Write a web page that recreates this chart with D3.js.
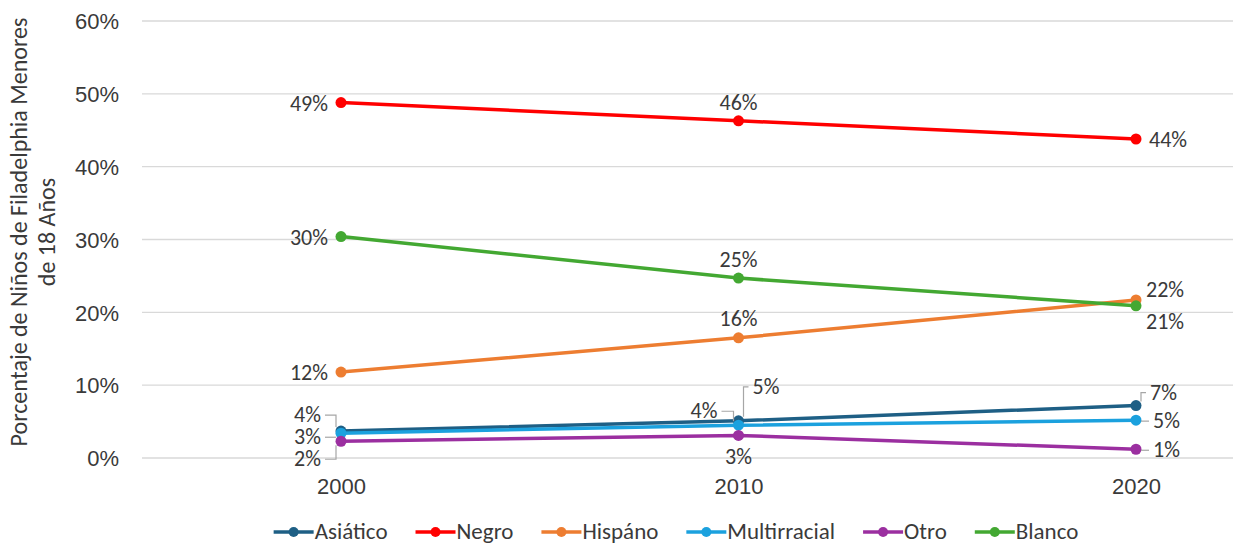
<!DOCTYPE html>
<html>
<head>
<meta charset="utf-8">
<script src="https://cdn.jsdelivr.net/npm/d3@7"></script>
<style>
  body { margin: 0; background: #fff; }
  svg { font-family: Carlito, Calibri, "Open Sans", "Noto Sans", sans-serif; }
</style>
</head>
<body>
<svg id="chart" width="1233" height="545"></svg>
<script>
// years on the x axis
var years = ["2000", "2010", "2020"]
var yTicks = [0, 0.1, 0.2, 0.3, 0.4, 0.5, 0.6]

// series values (share of children)
var seriesNames = ["Asiático", "Negro", "Hispáno", "Multirracial", "Otro", "Blanco"]
var asiatico     = [0.037, 0.051, 0.072]
var negro        = [0.488, 0.463, 0.438]
var hispano      = [0.118, 0.165, 0.217]
var multirracial = [0.034, 0.045, 0.052]
var otro         = [0.023, 0.031, 0.012]
var blanco       = [0.304, 0.247, 0.209]

// labels shown next to each point
var asiaticoLbl     = ["4%", "5%", "7%"]
var negroLbl        = ["49%", "46%", "44%"]
var hispanoLbl      = ["12%", "16%", "22%"]
var multirracialLbl = ["3%", "4%", "5%"]
var otroLbl         = ["2%", "3%", "1%"]
var blancoLbl       = ["30%", "25%", "21%"]

var colors = ["#1e5f85", "#ff0000", "#ed7d31", "#1ba1de", "#9b2fa0", "#43a832"]

// label placement: [dx, dy, anchor, leader?]
var place = {
  "Asiático":     [[-20, -9, "end", 1], [14, -27, "start", 1], [14, -6, "start", 1]],
  "Negro":        [[-13, 8, "end"], [0, -11, "middle"], [13, 8, "start"]],
  "Hispáno":      [[-13, 8, "end"], [0, -12, "middle"], [10, -3, "start"]],
  "Multirracial": [[-20, 11, "end", 1], [-21, -7, "end", 1], [17, 8, "start", 1]],
  "Otro":         [[-20, 25, "end", 1], [0, 29, "middle"], [17, 8, "start", 1]],
  "Blanco":       [[-13, 8, "end"], [0, -11, "middle"], [10, 23, "start"]]
}

var series = [asiatico, negro, hispano, multirracial, otro, blanco].map(function(v, i){
  return {name: seriesNames[i], values: v, color: colors[i],
    labels: [asiaticoLbl, negroLbl, hispanoLbl, multirracialLbl, otroLbl, blancoLbl][i]}
})

var svg = d3.select('#chart')
var x = d3.scalePoint().domain(years).range([341, 1136])
var y = d3.scaleLinear().domain([0, 0.6]).range([458, 21])
var textCol = "#3a3a3a"

// gridlines
svg.append('g').selectAll('line').data(yTicks).enter().append('line')
  .attr('x1', 142).attr('x2', 1233)
  .attr('y1', d => y(d)).attr('y2', d => y(d))
  .attr('stroke', '#d9d9d9').attr('stroke-width', 1.3)

// y axis labels
var yAxis = svg.append('g').attr('transform', 'translate(119,0)')
  .call(d3.axisLeft(y).tickValues(yTicks).tickFormat(d3.format(".0%")).tickSize(0).tickPadding(0))
yAxis.select('.domain').remove()
yAxis.selectAll('text').attr('font-size', 22).attr('fill', textCol)
  .attr('font-family', 'inherit').attr('dy', '0.35em')

// x axis labels
var xAxis = svg.append('g').attr('transform', 'translate(0,477)')
  .call(d3.axisBottom(x).tickSize(0).tickPadding(0))
xAxis.select('.domain').remove()
xAxis.selectAll('text').attr('font-size', 22).attr('fill', textCol)
  .attr('font-family', 'inherit').attr('dy', '0.75em')

// axis title
var title = svg.append('text').attr('transform', 'translate(27,232) rotate(-90)')
  .attr('text-anchor', 'middle').attr('font-size', 24).attr('fill', textCol)
title.append('tspan').attr('x', 0).attr('dy', 0).text('Porcentaje de Niños de Filadelphia Menores')
title.append('tspan').attr('x', 0).attr('dy', 28).text('de 18 Años')

var line = d3.line().x((d, i) => x(years[i])).y(d => y(d))

var g = svg.append('g').selectAll('g').data(series).enter().append('g')
g.append('path')
  .attr('d', d => line(d.values))
  .attr('fill', 'none').attr('stroke', d => d.color).attr('stroke-width', 3.5)
g.selectAll('circle').data(d => d.values.map(v => ({v: v, c: d.color})))
  .enter().append('circle')
  .attr('cx', (d, i) => x(years[i])).attr('cy', d => y(d.v))
  .attr('r', 5.5).attr('fill', d => d.c)

// data labels
series.forEach(function(s){
  s.values.forEach(function(v, i){
    var p = place[s.name][i]
    var px = x(years[i]), py = y(v)
    var tx = px + p[0], ty = py + p[1]
    if (p[3]) {
      // small grey leader line
      var lx = p[2] == "end" ? tx + 4 : tx - 4
      var ly = ty - 7
      var mx = px + (p[0] < 0 ? -5 : 5)
      var ey = Math.abs(ly - py) < 5 ? ly : py + (ly < py ? -4 : 4)
      svg.append('path')
        .attr('d', 'M' + lx + ',' + ly + 'L' + mx + ',' + ly + 'L' + mx + ',' + ey)
        .attr('fill', 'none').attr('stroke', '#a6a6a6').attr('stroke-width', 1.2)
    }
    svg.append('text').attr('x', tx).attr('y', ty)
      .attr('text-anchor', p[2]).attr('font-size', 22).attr('fill', textCol)
      .text(s.labels[i])
  })
})

// legend
var legend = svg.append('g')
var lx = 0
series.forEach(function(s){
  var item = legend.append('g').attr('transform', 'translate(' + lx + ',0)')
  item.append('line').attr('x1', 0).attr('x2', 40).attr('y1', 0).attr('y2', 0)
    .attr('stroke', s.color).attr('stroke-width', 3.5)
  item.append('circle').attr('cx', 20).attr('cy', 0).attr('r', 5).attr('fill', s.color)
  var t = item.append('text').attr('x', 41).attr('y', 7).attr('font-size', 23)
    .attr('fill', textCol).text(s.name)
  lx += 41 + t.node().getComputedTextLength() + 28
})
var lw = lx - 28
legend.attr('transform', 'translate(' + (676 - lw / 2) + ',532)')
</script>
</body>
</html>
